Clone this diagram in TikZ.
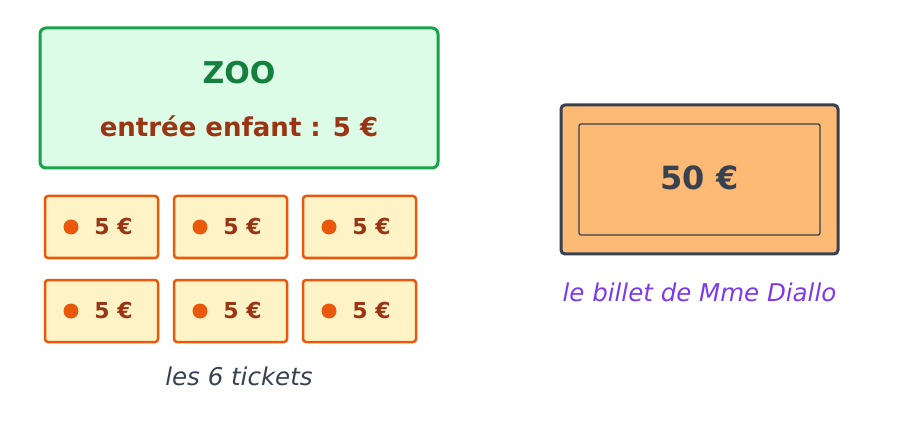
\documentclass[tikz,border=0pt]{standalone}
\usepackage{fontspec}
\setmainfont{DejaVu Sans}
\definecolor{zoogreen}{HTML}{16A34A}
\definecolor{zoodark}{HTML}{15803D}
\definecolor{zoofill}{HTML}{DCFCE7}
\definecolor{rust}{HTML}{9A3412}
\definecolor{tickedge}{HTML}{EA580C}
\definecolor{tickfill}{HTML}{FEF3C7}
\definecolor{slate}{HTML}{374151}
\definecolor{notefill}{HTML}{FDBA74}
\definecolor{violet}{HTML}{7C3AED}

\begin{document}
\begin{tikzpicture}[x=1pt,y=-1pt]
    \tikzstyle{ticket}=[rectangle,rounded corners=3pt,draw=tickedge,line width=2.5pt,fill=tickfill,minimum width=113pt,minimum height=62pt,inner sep=0pt,outer sep=0pt]
    \tikzstyle{price}=[text=rust,font=\bfseries\fontsize{22}{26}\selectfont,inner sep=0pt]
    \useasboundingbox (0,0) rectangle (905,422);

    \node[rectangle,rounded corners=6pt,draw=zoogreen,line width=3pt,fill=zoofill,minimum width=398pt,minimum height=140pt] (zoo) at (239,98) {};
    \node[text=zoodark,font=\bfseries\fontsize{30}{36}\selectfont] (zoo-title) at (239,72.5) {ZOO};
    \node[text=rust,font=\bfseries\fontsize{26}{31}\selectfont] (zoo-price) at (239,126.5) {entrée enfant : 5 €};

    \foreach \num/\x/\y in {1/101.5/227, 2/230.5/227, 3/359.5/227, 4/101.5/311, 5/230.5/311, 6/359.5/311}
    {
        \node[ticket] (T-\num) at (\x,\y) {};
        \fill[tickedge] ([xshift=26pt]T-\num.west) circle (7.5pt);
        \node[price] (P-\num) at ([xshift=12pt,yshift=1pt]T-\num.center) {5 €};
    }

    \node[text=slate,font=\itshape\fontsize{24.5}{29}\selectfont] (tickets) at (239,376.5) {les 6 tickets};

    \node[rectangle,rounded corners=4pt,draw=slate,line width=3pt,fill=notefill,minimum width=277pt,minimum height=149pt] (note) at (699.5,179.5) {};
    \node[rectangle,rounded corners=2pt,draw=slate,line width=1.3pt,minimum width=241pt,minimum height=111pt] (note-in) at (699.5,179.5) {};
    \node[text=slate,font=\bfseries\fontsize{32}{38}\selectfont] (note-val) at (699.5,177.5) {50 €};
    \node[text=violet,font=\itshape\fontsize{24.5}{29}\selectfont] (owner) at (699.5,292.5) {le billet de Mme Diallo};
\end{tikzpicture}
\end{document}
